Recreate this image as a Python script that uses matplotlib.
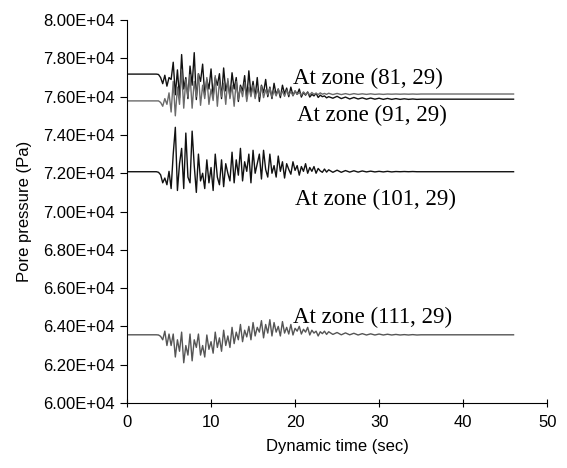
import numpy as np
import matplotlib
matplotlib.use("Agg")
import matplotlib.pyplot as plt
from matplotlib.ticker import FuncFormatter

# time samples (sec): start point, dense part 3.5-23.75 s, tail 24-46 s
t_start = [0.0]
t_dense = np.arange(3.5, 24.0, 0.25)
t_tail = np.arange(24.0, 46.5, 0.5)
time = np.concatenate([t_start, t_dense, t_tail])

# pore pressure readings, in units of 1E+04 Pa
zone_81 = [7.718,
    7.718, 7.716, 7.700, 7.668, 7.712, 7.655, 7.700, 7.690,
    7.780, 7.610, 7.740, 7.595, 7.820, 7.640, 7.700, 7.590,
    7.760, 7.660, 7.830, 7.585, 7.720, 7.680, 7.770, 7.610,
    7.690, 7.640, 7.745, 7.600, 7.700, 7.660, 7.720, 7.590,
    7.750, 7.630, 7.680, 7.600, 7.725, 7.640, 7.700, 7.575,
    7.660, 7.630, 7.710, 7.590, 7.735, 7.610, 7.680, 7.600,
    7.700, 7.575, 7.660, 7.620, 7.690, 7.600, 7.650, 7.590,
    7.670, 7.610, 7.640, 7.595, 7.660, 7.615, 7.645, 7.600,
    7.650, 7.605, 7.630, 7.612, 7.640, 7.598, 7.622, 7.608,
    7.625, 7.598, 7.612, 7.604, 7.618, 7.596, 7.608, 7.600,
    7.604, 7.594,
    7.600, 7.592, 7.602, 7.590, 7.598, 7.588, 7.596, 7.588,
    7.594, 7.587, 7.593, 7.587, 7.592, 7.586, 7.591, 7.586,
    7.590, 7.586, 7.589, 7.586, 7.588, 7.586,
    7.587, 7.587, 7.587, 7.587, 7.587, 7.587, 7.587, 7.587,
    7.587, 7.587, 7.587, 7.587, 7.587, 7.587, 7.587, 7.587,
    7.587, 7.587, 7.587, 7.587, 7.587, 7.587, 7.587]

zone_91 = [7.578,
    7.578, 7.578, 7.570, 7.550, 7.590, 7.560, 7.620, 7.520,
    7.680, 7.500, 7.650, 7.560, 7.740, 7.540, 7.690, 7.600,
    7.715, 7.540, 7.680, 7.600, 7.720, 7.555, 7.660, 7.590,
    7.700, 7.560, 7.640, 7.580, 7.710, 7.550, 7.680, 7.600,
    7.670, 7.560, 7.695, 7.590, 7.660, 7.550, 7.680, 7.585,
    7.650, 7.600, 7.675, 7.575, 7.650, 7.600, 7.660, 7.590,
    7.640, 7.600, 7.655, 7.595, 7.635, 7.610, 7.645, 7.598,
    7.632, 7.604, 7.640, 7.608, 7.628, 7.602, 7.634, 7.610,
    7.626, 7.606, 7.630, 7.612, 7.622, 7.608, 7.625, 7.612,
    7.620, 7.610, 7.622, 7.612, 7.618, 7.611, 7.620, 7.613,
    7.617, 7.612,
    7.618, 7.611, 7.617, 7.611, 7.616, 7.611, 7.616, 7.612,
    7.615, 7.612, 7.615, 7.612, 7.614, 7.612, 7.614, 7.613,
    7.614, 7.613, 7.614, 7.613, 7.614, 7.613,
    7.614, 7.614, 7.614, 7.614, 7.614, 7.614, 7.614, 7.614,
    7.614, 7.614, 7.614, 7.614, 7.614, 7.614, 7.614, 7.614,
    7.614, 7.614, 7.614, 7.614, 7.614, 7.614, 7.614]

zone_101 = [7.208,
    7.208, 7.205, 7.192, 7.150, 7.175, 7.140, 7.210, 7.120,
    7.300, 7.440, 7.110, 7.250, 7.330, 7.120, 7.410, 7.180,
    7.150, 7.420, 7.240, 7.100, 7.300, 7.160, 7.200, 7.120,
    7.270, 7.150, 7.230, 7.110, 7.300, 7.180, 7.140, 7.270,
    7.130, 7.250, 7.200, 7.160, 7.310, 7.150, 7.270, 7.190,
    7.330, 7.160, 7.260, 7.210, 7.300, 7.150, 7.320, 7.200,
    7.250, 7.300, 7.170, 7.320, 7.220, 7.180, 7.300, 7.200,
    7.240, 7.180, 7.290, 7.210, 7.260, 7.175, 7.250, 7.220,
    7.195, 7.260, 7.215, 7.240, 7.190, 7.235, 7.210, 7.250,
    7.200, 7.230, 7.210, 7.235, 7.200, 7.225, 7.212, 7.205,
    7.222, 7.206,
    7.218, 7.205, 7.216, 7.205, 7.214, 7.206, 7.213, 7.206,
    7.212, 7.207, 7.211, 7.207, 7.210, 7.207, 7.210, 7.207,
    7.209, 7.208, 7.209, 7.208, 7.209, 7.208,
    7.208, 7.208, 7.208, 7.208, 7.208, 7.208, 7.208, 7.208,
    7.208, 7.208, 7.208, 7.208, 7.208, 7.208, 7.208, 7.208,
    7.208, 7.208, 7.208, 7.208, 7.208, 7.208, 7.208]

zone_111 = [6.356,
    6.356, 6.355, 6.348, 6.330, 6.375, 6.300, 6.360, 6.300,
    6.360, 6.240, 6.330, 6.270, 6.370, 6.210, 6.300, 6.250,
    6.360, 6.220, 6.330, 6.290, 6.360, 6.250, 6.300, 6.240,
    6.355, 6.280, 6.320, 6.260, 6.370, 6.290, 6.340, 6.270,
    6.380, 6.300, 6.350, 6.290, 6.395, 6.310, 6.370, 6.330,
    6.410, 6.320, 6.380, 6.345, 6.400, 6.330, 6.420, 6.350,
    6.395, 6.370, 6.430, 6.340, 6.410, 6.365, 6.435, 6.350,
    6.420, 6.370, 6.400, 6.350, 6.425, 6.365, 6.395, 6.360,
    6.410, 6.355, 6.390, 6.375, 6.400, 6.360, 6.385, 6.370,
    6.395, 6.355, 6.380, 6.365, 6.375, 6.350, 6.372, 6.362,
    6.375, 6.358,
    6.372, 6.358, 6.368, 6.356, 6.366, 6.356, 6.364, 6.355,
    6.362, 6.355, 6.361, 6.355, 6.360, 6.355, 6.359, 6.355,
    6.358, 6.355, 6.357, 6.355, 6.357, 6.355,
    6.356, 6.356, 6.356, 6.356, 6.356, 6.356, 6.356, 6.356,
    6.356, 6.356, 6.356, 6.356, 6.356, 6.356, 6.356, 6.356,
    6.356, 6.356, 6.356, 6.356, 6.356, 6.356, 6.356]

labels = ["At zone (81, 29)", "At zone (91, 29)", "At zone (101, 29)", "At zone (111, 29)"]
label_t = [19.8, 20.2, 20.0, 19.8]
label_p = [7.697, 7.504, 7.065, 6.449]

plt.rcParams['font.family'] = ['Liberation Sans', 'DejaVu Sans']

fig = plt.figure(figsize=(5.67, 4.68), dpi=100)
ax = fig.add_axes([0.224, 0.139, 0.741, 0.818])

scale = 1e4
ax.plot(time, np.array(zone_81) * scale, color='#111111', lw=1.0)
ax.plot(time, np.array(zone_91) * scale, color='#6a6a6a', lw=1.0)
ax.plot(time, np.array(zone_101) * scale, color='#111111', lw=1.0)
ax.plot(time, np.array(zone_111) * scale, color='#555555', lw=1.0)

for txt, tx, py in zip(labels, label_t, label_p):
    ax.text(tx, py * scale, txt, family='Liberation Serif', fontsize=16.5,
            ha='left', va='center')

ax.set_xlim(0, 50)
ax.set_ylim(60000, 80000)
ax.set_xticks(range(0, 51, 10))
ax.set_yticks(np.arange(60000, 80001, 2000))
ax.yaxis.set_major_formatter(FuncFormatter(lambda v, p: f'{v:.2E}'))

ax.spines['top'].set_visible(False)
ax.spines['right'].set_visible(False)
ax.tick_params(axis='y', direction='out', length=5, width=0.8, labelsize=12, pad=4)
ax.tick_params(axis='x', direction='inout', length=6, width=0.8, labelsize=12, pad=6)

ax.set_xlabel('Dynamic time (sec)', fontsize=12, labelpad=6)
ax.set_ylabel('Pore pressure (Pa)', fontsize=12, labelpad=8)

fig.savefig('out.png', dpi=100)
